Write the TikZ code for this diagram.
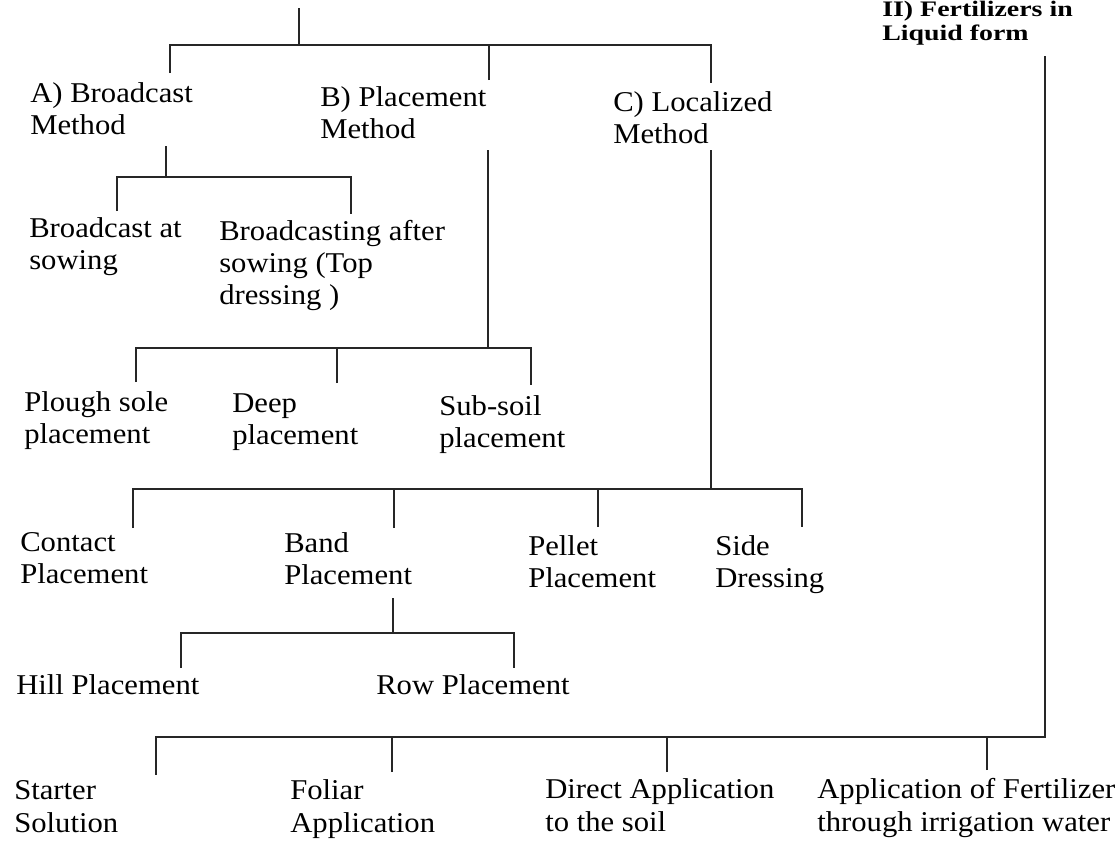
\documentclass[tikz,border=0pt]{standalone}
\usepackage{fontspec}
\setmainfont[FakeStretch=1.07]{Liberation Serif}
\newfontfamily\headfont[FakeStretch=1.26]{Liberation Serif}
\begin{document}
\begin{tikzpicture}[x=0.75pt,y=-0.75pt,
  every node/.style={font=\fontsize{21.5}{24}\selectfont,align=left,inner sep=0pt,anchor=north west},
  low/.style={font=\fontsize{21.5}{25}\selectfont},
  head/.style={font=\headfont\bfseries\fontsize{16.6}{18}\selectfont,anchor=south west},
  branch/.style={line width=1.1pt,black!85}]
\useasboundingbox (0,0) rectangle (1120,840);
\clip (0,0) rectangle (1120,840);
% first level: solid form
\coordinate (root) at (299,8);
\node (nA) at (30,82) {A) Broadcast\\Method};
\node (nB) at (320,86) {B) Placement\\Method};
\node (nC) at (613,91) {C) Localized\\Method};
\coordinate (bar1) at (0,45);
\coordinate (jA) at (170,73);
\coordinate (jB) at (489,80);
\coordinate (jC) at (711,83);
\draw[branch] (root) -- (root |- bar1);
\draw[branch] (jA) -- (jA |- bar1) -- (jC |- bar1) -- (jC);
\draw[branch] (jB) -- (jB |- bar1);
% broadcast method
\node (nA1) at (29,217) {Broadcast at\\sowing};
\node (nA2) at (219,220) {Broadcasting after\\sowing (Top\\dressing )};
\coordinate (sA) at (166,146);
\coordinate (barA) at (0,177);
\coordinate (jA1) at (117,211);
\coordinate (jA2) at (351,214);
\draw[branch] (sA) -- (sA |- barA);
\draw[branch] (jA1) -- (jA1 |- barA) -- (jA2 |- barA) -- (jA2);
% placement method
\node (nB1) at (24,391) {Plough sole\\placement};
\node (nB2) at (232,393) {Deep\\placement};
\node (nB3) at (439,395) {Sub-soil\\placement};
\coordinate (sB) at (488,150);
\coordinate (barB) at (0,348);
\coordinate (jB1) at (136,382);
\coordinate (jB2) at (337,383);
\coordinate (jB3) at (531,385);
\draw[branch] (sB) -- (sB |- barB);
\draw[branch] (jB1) -- (jB1 |- barB) -- (jB3 |- barB) -- (jB3);
\draw[branch] (jB2) -- (jB2 |- barB);
% localized method
\node (nC1) at (20,532) {Contact\\Placement};
\node (nC2) at (284,532) {Band\\Placement};
\node (nC3) at (528,535) {Pellet\\Placement};
\node (nC4) at (715,535) {Side\\Dressing};
\coordinate (sC) at (711,150);
\coordinate (barC) at (0,489);
\coordinate (jC1) at (133,528);
\coordinate (jC2) at (394,528);
\coordinate (jC3) at (598,527);
\coordinate (jC4) at (802,527);
\draw[branch] (sC) -- (sC |- barC);
\draw[branch] (jC1) -- (jC1 |- barC) -- (jC4 |- barC) -- (jC4);
\foreach \j in {jC2,jC3} \draw[branch] (\j) -- (\j |- barC);
% band placement
\node (nD1) at (16,674) {Hill Placement};
\node (nD2) at (376,674) {Row Placement};
\coordinate (sD) at (393,598);
\coordinate (barD) at (0,633);
\coordinate (jD1) at (181,668);
\coordinate (jD2) at (514,668);
\draw[branch] (sD) -- (sD |- barD);
\draw[branch] (jD1) -- (jD1 |- barD) -- (jD2 |- barD) -- (jD2);
% second level: liquid form
\node[head] (liq) at (882,45) {II) Fertilizers in\\Liquid form};
\node[low] (nL1) at (14,780) {Starter\\Solution};
\node[low] (nL2) at (290,779) {Foliar\\Application};
\node[low] (nL3) at (545,778) {Direct Application\\to the soil};
\node[low] (nL4) at (817,778) {Application of Fertilizer\\through irrigation water};
\coordinate (sL) at (1045,56);
\coordinate (barL) at (0,737);
\coordinate (jL1) at (156,775);
\coordinate (jL2) at (392,772);
\coordinate (jL3) at (667,772);
\coordinate (jL4) at (987,770);
\draw[branch] (sL) -- (sL |- barL) -- (jL1 |- barL) -- (jL1);
\foreach \j in {jL2,jL3,jL4} \draw[branch] (\j) -- (\j |- barL);
\end{tikzpicture}
\end{document}
